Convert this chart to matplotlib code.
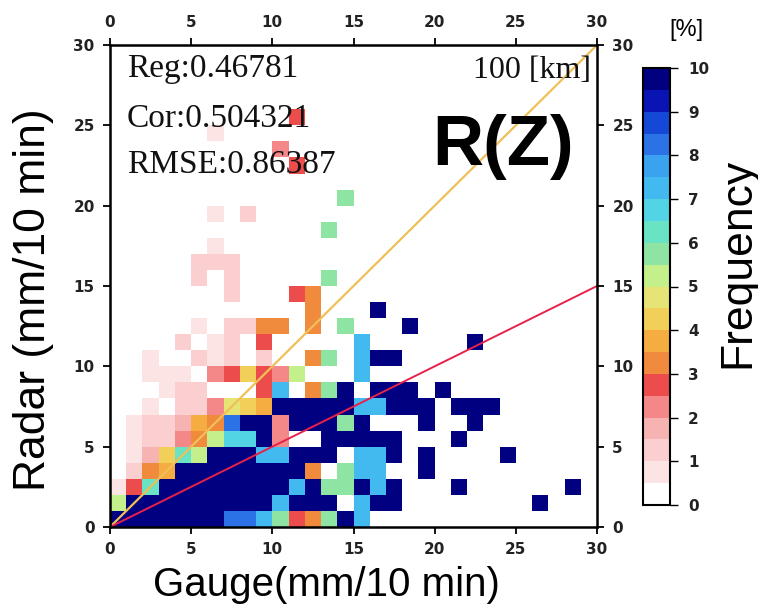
import matplotlib
matplotlib.use("Agg")
import matplotlib.pyplot as plt
from matplotlib.colors import ListedColormap, BoundaryNorm
from matplotlib.cm import ScalarMappable
import numpy as np

# -----------------------------------------------------------------------
# data: 1 mm bins, frequency [%] of gauge/radar pairs
# row k of freq_pct = radar bin k (from the bottom), column = gauge bin
# -----------------------------------------------------------------------
gauge_edges = list(range(0, 31))
radar_edges = list(range(0, 31))

freq_pct = [
    [9.8, 9.8, 9.8, 9.8, 9.8, 9.8, 9.8, 8.4, 8.4, 7.2, 5.7, 2.7, 3.3, 5.7, 9.8, 7.2, 0, 0, 0, 0, 0, 0, 0, 0, 0, 0, 0, 0, 0, 0],
    [5.2, 9.8, 9.8, 9.8, 9.8, 9.8, 9.8, 9.8, 9.8, 9.8, 7.2, 9.8, 9.8, 9.8, 0, 7.2, 9.8, 9.8, 0, 0, 0, 0, 0, 0, 0, 0, 9.8, 0, 0, 0],
    [0.7, 2.7, 6.3, 9.8, 9.8, 9.8, 9.8, 9.8, 9.8, 9.8, 9.8, 7.2, 9.8, 5.7, 5.7, 9.8, 7.2, 9.8, 0, 0, 0, 9.8, 0, 0, 0, 0, 0, 0, 9.8, 0],
    [0, 1.2, 3.3, 3.7, 9.8, 9.8, 9.8, 9.8, 9.8, 9.8, 9.8, 9.8, 3.3, 0, 5.7, 7.2, 7.2, 0, 0, 9.8, 0, 0, 0, 0, 0, 0, 0, 0, 0, 0],
    [0, 0.7, 1.7, 4.3, 6.3, 5.2, 9.8, 9.8, 9.8, 7.2, 7.2, 9.8, 9.8, 9.8, 0, 7.2, 7.2, 9.8, 0, 9.8, 0, 0, 0, 0, 9.8, 0, 0, 0, 0, 0],
    [0, 0.7, 1.2, 1.2, 2.4, 3.1, 5.2, 6.7, 6.7, 9.8, 2.2, 0, 0, 9.8, 9.8, 9.8, 9.8, 9.8, 0, 0, 0, 9.8, 0, 0, 0, 0, 0, 0, 0, 0],
    [0, 0.7, 1.2, 1.2, 1.6, 3.7, 3.3, 8.4, 9.8, 9.8, 2.2, 9.8, 9.8, 9.8, 5.7, 9.8, 0, 0, 0, 9.8, 0, 0, 9.8, 0, 0, 0, 0, 0, 0, 0],
    [0, 0, 0.7, 0, 1.2, 1.2, 2.2, 4.8, 4.3, 3.7, 9.8, 9.8, 9.8, 9.8, 9.8, 7.2, 7.2, 9.8, 9.8, 9.8, 0, 9.8, 9.8, 9.8, 0, 0, 0, 0, 0, 0],
    [0, 0, 0, 0.7, 1.2, 1.2, 0, 0, 0, 2.7, 7.2, 0, 3.3, 5.7, 9.8, 0, 9.8, 9.8, 9.8, 0, 9.8, 0, 0, 0, 0, 0, 0, 0, 0, 0],
    [0, 0, 0.7, 0.7, 0.7, 0, 2.2, 2.7, 4.3, 2.7, 2.2, 5.2, 0, 0, 0, 7.2, 0, 0, 0, 0, 0, 0, 0, 0, 0, 0, 0, 0, 0, 0],
    [0, 0, 0.7, 0, 0, 1.2, 0.7, 1.2, 0, 1.2, 0, 0, 3.3, 5.7, 0, 7.2, 9.8, 9.8, 0, 0, 0, 0, 0, 0, 0, 0, 0, 0, 0, 0],
    [0, 0, 0, 0, 1.2, 0, 0.7, 1.2, 0, 2.7, 0, 0, 0, 0, 0, 7.2, 0, 0, 0, 0, 0, 0, 9.8, 0, 0, 0, 0, 0, 0, 0],
    [0, 0, 0, 0, 0, 0.7, 0, 1.2, 1.2, 3.3, 3.3, 0, 3.3, 0, 5.7, 0, 0, 0, 9.8, 0, 0, 0, 0, 0, 0, 0, 0, 0, 0, 0],
    [0, 0, 0, 0, 0, 0, 0, 0, 0, 0, 0, 0, 3.3, 0, 0, 0, 9.8, 0, 0, 0, 0, 0, 0, 0, 0, 0, 0, 0, 0, 0],
    [0, 0, 0, 0, 0, 0, 0, 1.2, 0, 0, 0, 2.7, 3.3, 0, 0, 0, 0, 0, 0, 0, 0, 0, 0, 0, 0, 0, 0, 0, 0, 0],
    [0, 0, 0, 0, 0, 1.2, 0, 1.2, 0, 0, 0, 0, 0, 5.7, 0, 0, 0, 0, 0, 0, 0, 0, 0, 0, 0, 0, 0, 0, 0, 0],
    [0, 0, 0, 0, 0, 1.2, 1.2, 1.2, 0, 0, 0, 0, 0, 0, 0, 0, 0, 0, 0, 0, 0, 0, 0, 0, 0, 0, 0, 0, 0, 0],
    [0, 0, 0, 0, 0, 0, 0.7, 0, 0, 0, 0, 0, 0, 0, 0, 0, 0, 0, 0, 0, 0, 0, 0, 0, 0, 0, 0, 0, 0, 0],
    [0, 0, 0, 0, 0, 0, 0, 0, 0, 0, 0, 0, 0, 5.7, 0, 0, 0, 0, 0, 0, 0, 0, 0, 0, 0, 0, 0, 0, 0, 0],
    [0, 0, 0, 0, 0, 0, 0.7, 0, 1.2, 0, 0, 0, 0, 0, 0, 0, 0, 0, 0, 0, 0, 0, 0, 0, 0, 0, 0, 0, 0, 0],
    [0, 0, 0, 0, 0, 0, 0, 0, 0, 0, 0, 0, 0, 0, 5.7, 0, 0, 0, 0, 0, 0, 0, 0, 0, 0, 0, 0, 0, 0, 0],
    [0, 0, 0, 0, 0, 0, 0, 0, 0, 0, 0, 0, 0, 0, 0, 0, 0, 0, 0, 0, 0, 0, 0, 0, 0, 0, 0, 0, 0, 0],
    [0, 0, 0, 0, 0, 0, 0, 0, 0, 0, 0, 2.7, 0, 0, 0, 0, 0, 0, 0, 0, 0, 0, 0, 0, 0, 0, 0, 0, 0, 0],
    [0, 0, 0, 0, 0, 0, 0, 0, 0, 0, 2.2, 0, 0, 0, 0, 0, 0, 0, 0, 0, 0, 0, 0, 0, 0, 0, 0, 0, 0, 0],
    [0, 0, 0, 0, 0, 0, 0.7, 0, 0, 0, 0, 0, 0, 0, 0, 0, 0, 0, 0, 0, 0, 0, 0, 0, 0, 0, 0, 0, 0, 0],
    [0, 0, 0, 0, 0, 0, 0, 0, 0, 0, 0, 2.7, 0, 0, 0, 0, 0, 0, 0, 0, 0, 0, 0, 0, 0, 0, 0, 0, 0, 0],
    [0] * 30,
    [0] * 30,
    [0] * 30,
    [0] * 30,
]

# colour scale: 20 steps of 0.5 %
freq_levels = [0, 0.5, 1, 1.5, 2, 2.5, 3, 3.5, 4, 4.5, 5,
               5.5, 6, 6.5, 7, 7.5, 8, 8.5, 9, 9.5, 10]
freq_colors = ["#ffffff", "#fde4e4", "#fbcfcf", "#f7b2b2", "#f48888",
               "#ec4c4c", "#f08a3c", "#f5ac40", "#f2cf58", "#e6e474",
               "#c4f08c", "#8ee4a2", "#6ae2c4", "#52d4e4", "#42baf0",
               "#3aa2ee", "#2a72e6", "#1648d8", "#0a14b4", "#000080"]
freq_ticks = [0, 1, 2, 3, 4, 5, 6, 7, 8, 9, 10]
axis_ticks = [0, 5, 10, 15, 20, 25, 30]

# reference lines
one_to_one_x, one_to_one_y = [0, 30], [0, 30]
fit_x, fit_y = [0, 30], [0, 15]

stats = ["Reg:0.46781", "Cor:0.504321", "RMSE:0.86387"]
radius_label = "100 [km]"
method_label = "R(Z)"

# -----------------------------------------------------------------------
# plot
# -----------------------------------------------------------------------
W, H = 758, 609
fig = plt.figure(figsize=(W / 100, H / 100), dpi=100)
ax = fig.add_axes([110 / W, 82 / H, 487 / W, 482 / H])
cax = fig.add_axes([643 / W, 104 / H, 27 / W, 437 / H])

cmap = ListedColormap(freq_colors)
norm = BoundaryNorm(freq_levels, cmap.N)
ax.pcolormesh(gauge_edges, radar_edges, np.array(freq_pct), cmap=cmap, norm=norm)

ax.plot(one_to_one_x, one_to_one_y, color="#f0c058", lw=1.6)
ax.plot(fit_x, fit_y, color="#e8214b", lw=1.4)

ax.set_xlim(0, 30)
ax.set_ylim(0, 30)
ax.set_xticks(axis_ticks)
ax.set_yticks(axis_ticks)
ax.tick_params(direction="out", length=5, width=1.3, top=True, right=True,
               labeltop=True, labelright=True, labelsize=11, pad=6,
               labelcolor="#222222")
for lab in ax.get_xticklabels() + ax.get_yticklabels():
    lab.set_fontweight("bold")
for sp in ax.spines.values():
    sp.set_linewidth(1.8)

serif = "Liberation Serif"
for k, s in enumerate(stats):
    ax.text(1.05, [28.0, 24.9, 22.03][k], s, fontfamily=serif, fontsize=24,
            va="baseline", ha="left", color="#111111")
ax.text(29.6, 27.95, radius_label, fontfamily=serif, fontsize=23,
        va="baseline", ha="right", color="#111111")
ax.text(24.2, 22.5, method_label, fontfamily="Liberation Sans", fontsize=51,
        fontweight="bold", va="baseline", ha="center")

sm = ScalarMappable(norm=norm, cmap=cmap)
cb = fig.colorbar(sm, cax=cax, ticks=freq_ticks)
cb.ax.minorticks_off()
cb.outline.set_linewidth(1.5)
cax.tick_params(length=6, width=1.0, labelsize=11, pad=7, labelcolor="#222222")
for lab in cax.get_yticklabels():
    lab.set_fontweight("bold")

sans = "Liberation Sans"
fig.text(326 / W, 1 - 596 / H, "Gauge(mm/10 min)", fontfamily=sans,
         fontsize=29, ha="center", va="baseline")
fig.text(34 / W, 1 - 300 / H, "Radar (mm/10 min)", fontfamily=sans,
         fontsize=32, rotation=90, ha="center", va="center")
fig.text(738 / W, 1 - 263 / H, "Frequency", fontfamily=sans,
         fontsize=32, rotation=90, ha="center", va="center")
fig.text(686 / W, 1 - 30 / H, "[%]", fontfamily=sans, fontsize=17,
         ha="center", va="center")

fig.savefig("out.png", dpi=100)
